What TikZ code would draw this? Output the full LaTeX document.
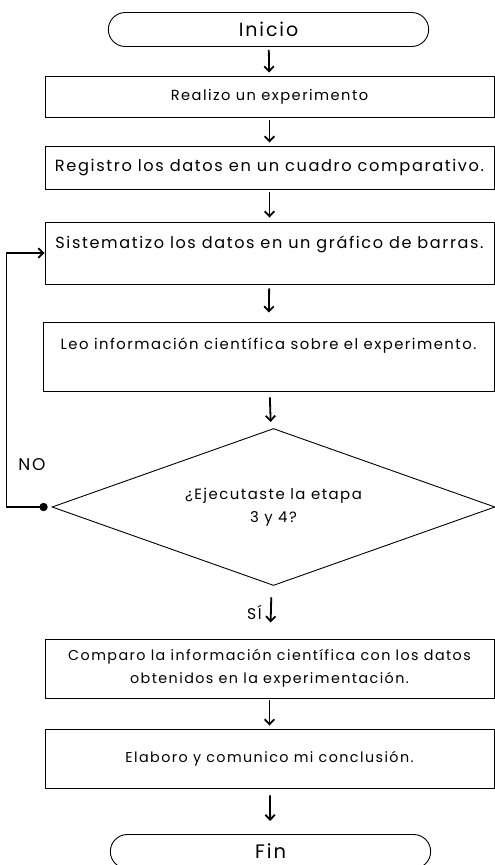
\documentclass[tikz,border=0pt]{standalone}
\usepackage{fontspec}
\setmainfont{Poppins}[LetterSpace=10]
\usetikzlibrary{arrows.meta, shapes.geometric, shapes.misc}

\begin{document}
\begin{tikzpicture}[x=1pt, y=-1pt,
  box/.style={draw, line width=0.9pt, fill=white, minimum width=449pt,
              align=center, inner sep=2pt},
  term/.style={draw, line width=0.9pt, rounded rectangle, minimum width=327pt,
               minimum height=34pt, text depth=0pt,
               font=\fontsize{19}{22}\selectfont},
  dec/.style={draw, line width=0.9pt, diamond, aspect=2.8, inner sep=1pt,
              minimum width=443pt, minimum height=157pt, align=center,
              font=\fontsize{14.9}{23}\selectfont},
  arr/.style={-{Straight Barb[length=5pt, width=9.5pt]}, line width=1.8pt},
  lbl/.style={font=\fontsize{15.5}{18}\selectfont}
]
\useasboundingbox (0,0) rectangle (495,865);

% start / end
\node[term] (inicio) at (268.5, 29.5) {Inicio};
\node[term, font=\fontsize{19.5}{22}\selectfont] (fin) at (270.5, 851.5) {Fin};

% steps
\node[box, minimum height=41pt, font=\fontsize{14.6}{17}\selectfont]
  (realizo)  at (269.5, 96.5)  {Realizo un experimento};
\node[box, minimum height=43pt, font=\fontsize{16.2}{19}\selectfont]
  (registro) at (269.5, 167.5) {Registro los datos en un cuadro comparativo.};
\node[box, minimum height=62pt, text depth=22pt, font=\fontsize{16.1}{19}\selectfont]
  (sistem)   at (269.5, 253)   {Sistematizo los datos en un gráfico de barras.};
\node[box, minimum width=451pt, minimum height=69pt, text depth=26pt,
      font=\fontsize{14.8}{17}\selectfont]
  (leo)      at (268.5, 356.5) {Leo información científica sobre el experimento.};

% decision
\node[dec] (pregunta) at (273.5, 507) {¿Ejecutaste la etapa\\3 y 4?};

\node[box, minimum height=59pt, font=\fontsize{14.3}{23}\selectfont]
  (compara)  at (269.5, 668.5) {Comparo la información científica con los datos\\
                                obtenidos en la experimentación.};
\node[box, minimum height=59pt, font=\fontsize{14.3}{17}\selectfont]
  (elaboro)  at (269.5, 758.5) {Elaboro y comunico mi conclusión.};

% flow
\draw[arr, shorten <=3pt, shorten >=3pt] (inicio) -- (realizo);
\draw[arr, shorten <=3pt, shorten >=3pt] (realizo) -- (registro);
\draw[arr, shorten <=3pt, shorten >=4pt] (registro) -- (sistem);
\draw[arr, shorten <=4pt, shorten >=9pt] (sistem) -- (leo);
\draw[arr, shorten <=6pt, shorten >=7pt] (leo) -- (pregunta);
\draw[arr, shorten <=12pt, shorten >=16pt] (pregunta) -- (compara)
  node[lbl, pos=0.5, left=5pt] (si) {SÍ};
\draw[arr, shorten <=2pt, shorten >=3pt] (compara) -- (elaboro);
\draw[arr, shorten <=7pt, shorten >=13pt] (elaboro) -- (fin);

% loop back
\coordinate (punto) at ([xshift=-8pt]pregunta.west);
\fill (punto) circle (4.2pt);
\draw[arr] (punto) -- ++(-37pt,0) |- (sistem.west);
\node[lbl, font=\fontsize{17}{19}\selectfont] (no) at (32, 465) {NO};

\end{tikzpicture}
\end{document}
